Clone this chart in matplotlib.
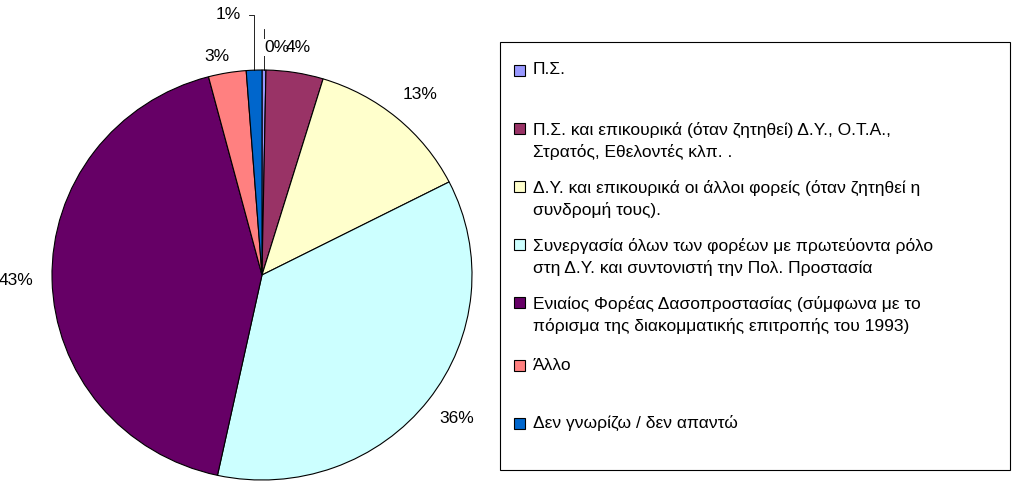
import matplotlib
matplotlib.use("Agg")
import matplotlib.pyplot as plt
import numpy as np
from matplotlib.patches import Rectangle

labels = ["Π.Σ.",
          "Π.Σ. και επικουρικά (όταν ζητηθεί) Δ.Υ., Ο.Τ.Α.,\nΣτρατός, Εθελοντές κλπ. .",
          "Δ.Υ. και επικουρικά οι άλλοι φορείς (όταν ζητηθεί η\nσυνδρομή τους).",
          "Συνεργασία όλων των φορέων με πρωτεύοντα ρόλο\nστη Δ.Υ. και συντονιστή την Πολ. Προστασία",
          "Ενιαίος Φορέας Δασοπροστασίας (σύμφωνα με το\nπόρισμα της διακομματικής επιτροπής του 1993)",
          "Άλλο",
          "Δεν γνωρίζω / δεν απαντώ"]
values = [0.3, 4.4, 12.8, 35.9, 42.5, 2.9, 1.2]
pct_labels = ["0%", "4%", "13%", "36%", "43%", "3%", "1%"]
colors = ["#9999FF", "#993366", "#FFFFCC", "#CCFFFF", "#660066", "#FF8080", "#0066CC"]

plt.rcParams["font.family"] = "Liberation Sans"
fig = plt.figure(figsize=(10.24, 4.92), dpi=100)
ax = fig.add_axes([52/1024, 12/492, 420/1024, 410/492])
wedges, _ = ax.pie(values, colors=colors, startangle=90, counterclock=False,
                   wedgeprops=dict(edgecolor="black", linewidth=0.8))
ax.set_aspect("auto")
ax.set_xlim(-1, 1); ax.set_ylim(-1, 1)

fs = 12.5
for i, w in enumerate(wedges):
    ang = np.deg2rad((w.theta1 + w.theta2) / 2)
    x, y = np.cos(ang), np.sin(ang)
    if i == 0:
        ax.plot([x, x], [y, 1.2], color="black", lw=0.6, clip_on=False)
        ax.text(x + 0.0, 1.11, pct_labels[i], ha="left", va="center", fontsize=fs,
                bbox=dict(facecolor="white", edgecolor="none", pad=0.5))
    elif i == 1:
        ax.text(0.17, 1.11, pct_labels[i], ha="center", va="center", fontsize=fs)
    elif i == 6:
        ax.plot([x, x, -0.06], [y, 1.27, 1.27], color="black", lw=0.6, clip_on=False)
        ax.text(-0.16, 1.27, pct_labels[i], ha="center", va="center", fontsize=fs)
    elif i == 5:
        ax.text(x*1.12-0.03, y*1.08, pct_labels[i], ha="center", va="center", fontsize=fs)
    else:
        ax.text(x*1.17, y*1.15, pct_labels[i], ha="center", va="center", fontsize=fs)

W, H = 1024, 492
fig.patches.append(Rectangle((500/W, 1-470/H), 510/W, 428/H, transform=fig.transFigure,
                             facecolor="white", edgecolor="black", lw=0.8))
ys = [70, 141, 199, 257, 315, 365, 423]
for lab, c, yc in zip(labels, colors, ys):
    nlines = lab.count("\n") + 1
    ytop = yc if nlines == 1 else yc - 13
    fig.patches.append(Rectangle((514/W, 1-(ytop+6)/H), 11/W, 11/H, transform=fig.transFigure,
                                 facecolor=c, edgecolor="black", lw=0.8))
    fig.text(533/W, 1-(yc)/H, lab, ha="left", va="center", fontsize=12.5, linespacing=1.45)

fig.savefig("out.png", dpi=100)
